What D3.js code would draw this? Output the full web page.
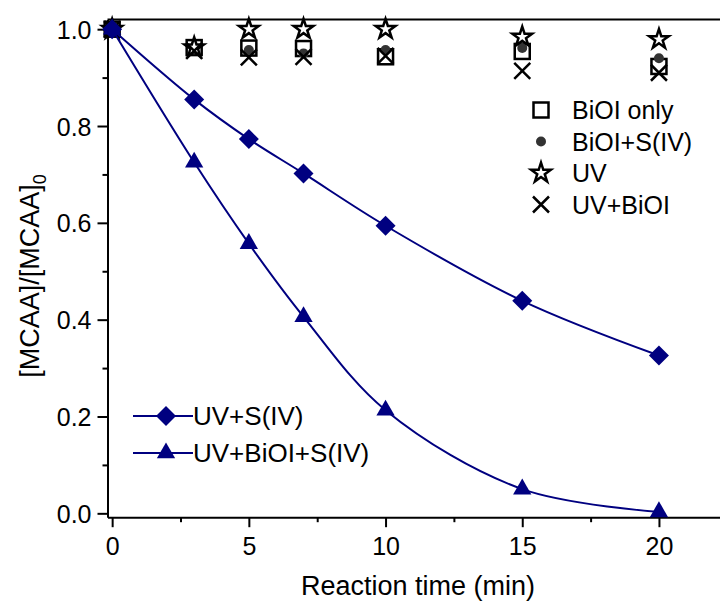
<!DOCTYPE html>
<html>
<head>
<meta charset="utf-8">
<script src="https://cdn.jsdelivr.net/npm/d3@7"></script>
<style>
  html, body { margin: 0; padding: 0; background: #fff; }
  svg { display: block; }
  text { font-family: Arial, "Liberation Sans", sans-serif; fill: #000; }
</style>
</head>
<body>
<div id="chart"></div>
<script>
/* ── data ────────────────────────────────────────────────────────── */
const time      = [0, 3, 5, 7, 10, 15, 20];
const biOIOnly  = [1.0, 0.962, 0.961, 0.960, 0.943, 0.954, 0.923];
const biOIS     = [1.0, 0.958, 0.957, 0.950, 0.957, 0.961, 0.940];
const uvOnly    = [1.0, 0.962, 1.0, 1.0, 1.0, 0.984, 0.979];
const uvBiOI    = [1.0, 0.955, 0.942, 0.943, 0.945, 0.914, 0.910];
const uvS       = [1.0, 0.855, 0.773, 0.702, 0.594, 0.439, 0.326];
const uvBiOIS   = [1.0, 0.725, 0.557, 0.406, 0.213, 0.050, 0.003];

const xTicks = [0, 5, 10, 15, 20];
const xMinor = [2.5, 7.5, 12.5, 17.5];
const yTicks = [0, 0.2, 0.4, 0.6, 0.8, 1.0];
const yMinor = [0.1, 0.3, 0.5, 0.7, 0.9];

/* ── layout ─────────────────────────────────────────────────────── */
const W = 720, H = 601;
const NAVY = '#000080';
const svg = d3.select('#chart').append('svg').attr('width', W).attr('height', H);

const x = d3.scaleLinear().domain([-0.17, 22.5]).range([107.5, 727.3]);
const y = d3.scaleLinear().domain([-0.008, 1.02]).range([517.2, 19.5]);

/* frame: top line (right side is off the picture) */
svg.append('line').attr('x1', x.range()[0]).attr('x2', W + 10)
  .attr('y1', y.range()[1]).attr('y2', y.range()[1])
  .attr('stroke', '#000').attr('stroke-width', 2);

/* axes */
const fmt = d3.format('.1f');
const gx = svg.append('g').attr('transform', `translate(0,${y.range()[0]})`);
gx.call(d3.axisBottom(x).tickValues(xTicks).tickSize(10).tickSizeOuter(0).tickFormat(d3.format('d')));
gx.append('g').call(d3.axisBottom(x).tickValues(xMinor).tickSize(5).tickSizeOuter(0).tickFormat(''))
  .call(g => g.select('.domain').remove());

const gy = svg.append('g').attr('transform', `translate(${x.range()[0]},0)`);
gy.call(d3.axisLeft(y).tickValues(yTicks).tickSize(10).tickSizeOuter(0).tickFormat(fmt));
gy.append('g').call(d3.axisLeft(y).tickValues(yMinor).tickSize(5).tickSizeOuter(0).tickFormat(''))
  .call(g => g.select('.domain').remove());

[gx, gy].forEach(g => {
  g.selectAll('path.domain').attr('stroke', '#000').attr('stroke-width', 2);
  g.selectAll('line').attr('stroke', '#000').attr('stroke-width', 2);
  g.selectAll('text').attr('font-size', 25).attr('fill', '#000')
    .attr('font-family', 'Arial, "Liberation Sans", sans-serif');
});
gx.selectAll('text').attr('dy', '1.0em');
gy.selectAll('text').attr('dx', '-0.12em').attr('dy', '0.36em');

/* axis titles */
svg.append('text').attr('x', 418).attr('y', 595).attr('text-anchor', 'middle')
  .attr('font-size', 27).text('Reaction time (min)');
const yt = svg.append('text').attr('transform', 'translate(39,276) rotate(-90)')
  .attr('text-anchor', 'middle').attr('font-size', 27);
yt.append('tspan').text('[MCAA]/[MCAA]');
yt.append('tspan').attr('font-size', 18).attr('dy', 7).text('0');

/* ── marker helpers ─────────────────────────────────────────────── */
function marker(g, kind, cx, cy) {
  const t = `translate(${cx},${cy})`;
  if (kind === 'square') {
    g.append('rect').attr('x', cx - 7.5).attr('y', cy - 7.5).attr('width', 15).attr('height', 15)
      .attr('fill', 'none').attr('stroke', '#000').attr('stroke-width', 2.5);
  } else if (kind === 'dot') {
    g.append('circle').attr('cx', cx).attr('cy', cy).attr('r', 5).attr('fill', '#333');
  } else if (kind === 'star') {
    g.append('path').attr('transform', t).attr('d', d3.symbol(d3.symbolStar, 120)())
      .attr('fill', '#fff').attr('stroke', '#000').attr('stroke-width', 2.5)
      .attr('stroke-linejoin', 'miter');
  } else if (kind === 'cross') {
    g.append('path').attr('transform', t).attr('d', 'M-8,-8L8,8M-8,8L8,-8')
      .attr('stroke', '#000').attr('stroke-width', 2.5).attr('fill', 'none');
  } else if (kind === 'diamond') {
    g.append('path').attr('transform', t + ' rotate(45)')
      .attr('d', d3.symbol(d3.symbolSquare, 200)()).attr('fill', NAVY);
  } else if (kind === 'triangle') {
    g.append('path').attr('transform', t)
      .attr('d', d3.symbol(d3.symbolTriangle, 145)()).attr('fill', NAVY);
  }
}

/* ── control series (scatter, black) ─────────────────────────────── */
const controls = [
  { kind: 'square', label: 'BiOI only', values: biOIOnly },
  { kind: 'dot',    label: 'BiOI+S(IV)', values: biOIS },
  { kind: 'star',   label: 'UV', values: uvOnly },
  { kind: 'cross',  label: 'UV+BiOI', values: uvBiOI },
];
const gm = svg.append('g');
controls.forEach(s => {
  s.values.forEach((v, i) => marker(gm, s.kind, x(time[i]), y(v)));
});

/* ── fitted series (navy lines + filled markers) ─────────────────── */
const fitted = [
  { kind: 'diamond',  label: 'UV+S(IV)', values: uvS },
  { kind: 'triangle', label: 'UV+BiOI+S(IV)', values: uvBiOIS },
];
const line = d3.line().x(d => x(d[0])).y(d => y(d[1])).curve(d3.curveCatmullRom.alpha(0.5));
fitted.forEach(s => {
  const pts = time.map((t, i) => [t, s.values[i]]);
  svg.append('path').attr('d', line(pts)).attr('fill', 'none')
    .attr('stroke', NAVY).attr('stroke-width', 2);
  const g = svg.append('g');
  pts.forEach(p => marker(g, s.kind, x(p[0]), y(p[1])));
});

/* ── legends ────────────────────────────────────────────────────── */
const legTop = svg.append('g');
controls.forEach((s, i) => {
  const cy = 110 + i * 31.5;
  marker(legTop, s.kind, 541, cy);
  legTop.append('text').attr('x', 572).attr('y', cy + 9).attr('font-size', 25).text(s.label);
});

const legBot = svg.append('g');
fitted.forEach((s, i) => {
  const cy = 416 + i * 37;
  legBot.append('line').attr('x1', 133).attr('x2', 193).attr('y1', cy).attr('y2', cy)
    .attr('stroke', NAVY).attr('stroke-width', 2);
  marker(legBot, s.kind, 166, cy);
  legBot.append('text').attr('x', 193).attr('y', cy + 9).attr('font-size', 26).text(s.label);
});
</script>
</body>
</html>
